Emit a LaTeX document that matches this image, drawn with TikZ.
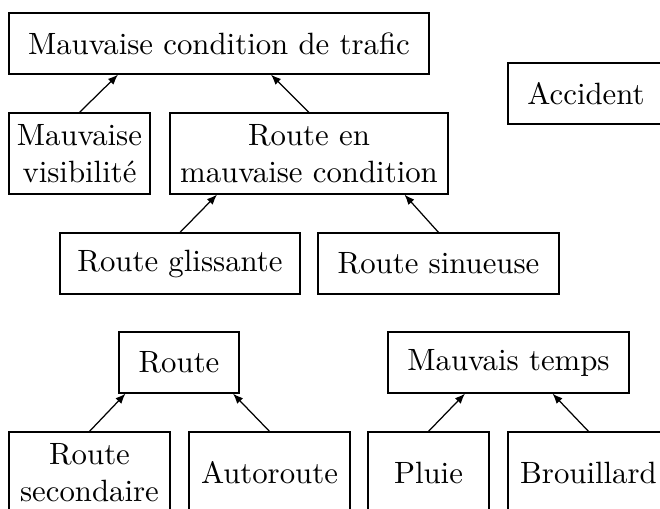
\documentclass[tikz,border=0pt]{standalone}
\usetikzlibrary{calc,arrows.meta}
\def\pu{0.3247pt}
\begin{document}
\begin{tikzpicture}[x=\pu,y=-\pu,
  box/.style={draw,inner sep=0pt,align=center,minimum width={#1*\pu}},
  box/.default=100,
  oneline/.style={minimum height={61*\pu}},
  twoline/.style={minimum height={81*\pu}},
  arr/.style={-{Latex[length=3.3pt,width=2.6pt]}}]
\useasboundingbox (0,0) rectangle (660,509);
\clip (0,0) rectangle (660,509);
% nodes
\node[box=420,oneline] (mct) at (219,43.5) {Mauvaise condition de trafic};
\node[box=141,twoline] (vis) at (79.5,153.5) {Mauvaise\\visibilité};
\node[box=278,twoline] (rmc) at (309,153.5) {Route en\\mauvaise condition};
\node[box=156,oneline] (acc) at (586,93.5) {Accident};
\node[box=240,oneline] (rgl) at (180,263.5) {Route glissante};
\node[box=241,oneline] (rsi) at (438.5,263.5) {Route sinueuse};
\node[box=120,oneline] (route) at (179,362.5) {Route};
\node[box=241,oneline] (mtp) at (508.5,362.5) {Mauvais temps};
\node[box=161,twoline] (rsec) at (89.5,472.5) {Route\\secondaire};
\node[box=161,twoline] (auto) at (269.5,472.5) {Autoroute};
\node[box=121,twoline] (plu) at (428.5,472.5) {Pluie};
\node[box=161,twoline] (bro) at (588.5,472.5) {Brouillard};
% helper coordinates
\coordinate (h1) at ($(vis.north)+(38.5,0)$);
\coordinate (h2) at ($(rmc.north)+(-38,0)$);
\coordinate (h3) at ($(rgl.north)+(37,0)$);
\coordinate (h4) at ($(rsi.north)+(-34,0)$);
\coordinate (h5) at ($(rsec.north)+(36,0)$);
\coordinate (h6) at ($(auto.north)+(-36.5,0)$);
\coordinate (h7) at ($(plu.north)+(36.5,0)$);
\coordinate (h8) at ($(bro.north)+(-36,0)$);
% connectors
\draw[arr] (vis.north) -- (h1 |- mct.south);
\draw[arr] (rmc.north) -- (h2 |- mct.south);
\draw[arr] (rgl.north) -- (h3 |- rmc.south);
\draw[arr] (rsi.north) -- (h4 |- rmc.south);
\draw[arr] (rsec.north) -- (h5 |- route.south);
\draw[arr] (auto.north) -- (h6 |- route.south);
\draw[arr] (plu.north) -- (h7 |- mtp.south);
\draw[arr] (bro.north) -- (h8 |- mtp.south);
\end{tikzpicture}
\end{document}
